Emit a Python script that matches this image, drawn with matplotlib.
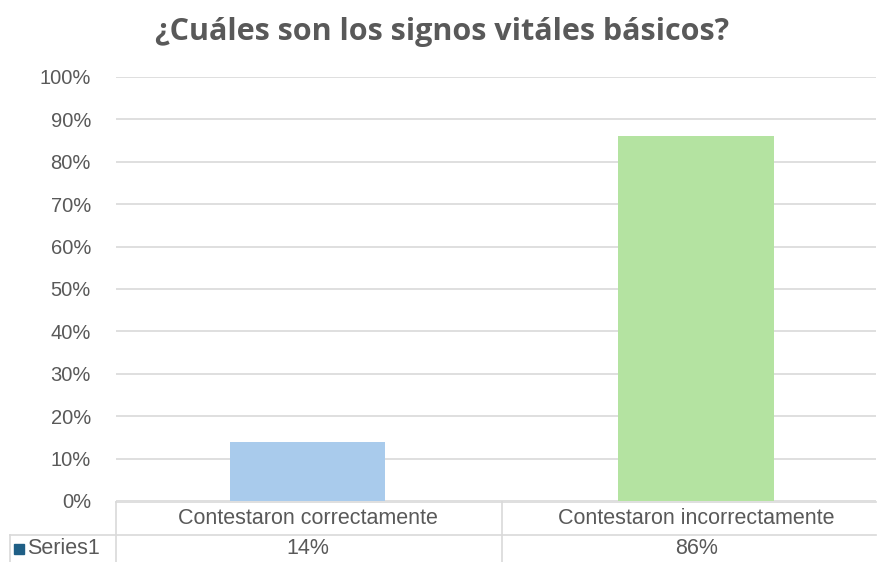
import matplotlib
matplotlib.use("Agg")
import matplotlib.pyplot as plt
from matplotlib.ticker import PercentFormatter
from matplotlib.patches import Rectangle

# data
categories = ["Contestaron correctamente", "Contestaron incorrectamente"]
values = [0.14, 0.86]
value_labels = ["14%", "86%"]
series_name = "Series1"
bar_colors = ["#a9cbec", "#b4e3a1"]

title = "¿Cuáles son los signos vitáles básicos?"
gray = "#595959"
grid_col = "#d9d9d9"

fig = plt.figure(figsize=(8.77, 5.62), dpi=100)
W, H = 877, 562
# plot area in pixels: left 116, right 876, top 77, bottom 501
ax = fig.add_axes([116 / W, 1 - 501 / H, (876 - 116) / W, (501 - 77) / H])

xs = list(range(len(categories)))
ax.bar(xs, values, width=0.40, color=bar_colors, zorder=3)

ax.set_ylim(0, 1)
ax.set_xlim(-0.493, 1.463)
ax.set_yticks([i / 10 for i in range(11)])
ax.yaxis.set_major_formatter(PercentFormatter(1.0, decimals=0))
ax.grid(axis="y", color=grid_col, linewidth=1.2, zorder=0)
ax.tick_params(axis="y", length=0, pad=18, labelsize=14.5, labelcolor=gray)
ax.tick_params(axis="x", length=0, labelbottom=False)
for s in ax.spines.values():
    s.set_visible(False)
for lab in ax.get_yticklabels():
    lab.set_fontfamily(["Liberation Sans", "DejaVu Sans"])

fig.text(0.504, 1 - 32 / H, title, ha="center", va="center",
         fontsize=22, fontweight="bold", color=gray, family=["Open Sans", "DejaVu Sans"])

# data table below the plot (pixel coords on the figure)
def px(x, y):
    return x / W, 1 - y / H

def hline(x0, x1, y):
    fig.add_artist(plt.Line2D([x0 / W, x1 / W], [1 - y / H, 1 - y / H], color=grid_col, lw=1.2))

def vline(x, y0, y1):
    fig.add_artist(plt.Line2D([x / W, x / W], [1 - y0 / H, 1 - y1 / H], color=grid_col, lw=1.2))

hline(116, 876, 502)
hline(10, 876, 535)
vline(10, 535, 562)
vline(116, 502, 562)
# boundary between categories at data x = 0.5
mid_px = 116 + (0.5 + 0.493) / (1.463 + 0.493) * (876 - 116)
vline(mid_px, 502, 562)

tfont = ["Liberation Sans", "DejaVu Sans"]
for i, (cat, lab) in enumerate(zip(categories, value_labels)):
    xc = 116 + (i + 0.493) / (1.463 + 0.493) * (876 - 116)
    fig.text(*px(xc, 519), cat, ha="center", va="center", fontsize=15.5,
             color=gray, family=tfont)
    fig.text(*px(xc, 549), lab, ha="center", va="center", fontsize=15.5,
             color=gray, family=tfont)

fig.add_artist(Rectangle(px(14, 554), 10 / W, 10 / H, color="#1f5f86"))
fig.text(*px(27, 549), series_name, ha="left", va="center", fontsize=15.5,
         color=gray, family=tfont)

fig.savefig("out.png", dpi=100, facecolor="white")
